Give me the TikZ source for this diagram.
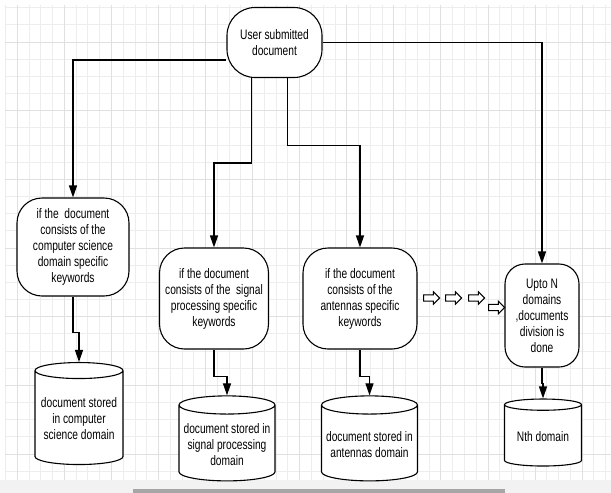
\documentclass[tikz,border=0pt]{standalone}
\usepackage{fontspec}
\setmainfont{Liberation Sans}[FakeStretch=0.74]
\usetikzlibrary{arrows.meta,shapes.geometric,shapes.arrows}

\tikzset{
  decision/.style={draw, line width=1.1pt, fill=white, rounded corners=25pt, align=center, inner sep=2pt},
  store/.style={cylinder, shape border rotate=90, aspect=0.2, draw, line width=1.1pt, fill=white, align=center, inner sep=2pt},
  flow/.style={line width=1.3pt, -{Triangle[length=12pt,width=8pt]}},
  hollow/.style={single arrow, draw, line width=1.1pt, fill=white, inner sep=2.6pt, minimum height=16pt, minimum width=12pt, single arrow head extend=3pt},
}

\begin{document}
\begin{tikzpicture}[x=1pt, y=-1pt, every node/.style={font=\fontsize{13.8}{16}\selectfont}]
    \useasboundingbox (0,0) rectangle (611,493);

    % Draw the grid
    \foreach \i in {0,...,51}
        \draw[black!7, line width=0.8pt] ({5.5+11.766*\i},5) -- ({5.5+11.766*\i},480);
    \foreach \j in {0,...,27}
        \draw[black!7, line width=0.8pt] (5,{7.6+17.17*\j}) -- (611,{7.6+17.17*\j});
    \foreach \i in {1,5,...,49}
        \draw[black!12, line width=0.8pt] ({5.5+11.766*\i},5) -- ({5.5+11.766*\i},480);
    \foreach \j in {2,6,...,26}
        \draw[black!12, line width=0.8pt] (5,{7.6+17.17*\j}) -- (611,{7.6+17.17*\j});

    % Draw the bar at the bottom
    \fill[black!5] (0,480) rectangle (611,493);
    \fill[black!35] (133,489) rectangle (505,493);

    % Draw the boxes
    \node[decision, rounded corners=28pt, minimum width=95pt, minimum height=70pt] (user) at (274.5,42.5) {User submitted\\document};

    \node[decision, minimum width=112pt, minimum height=98pt] (csdec) at (73,247) {if the\ \ document\\consists of the\\computer science\\domain specific\\keywords};
    \node[decision, minimum width=109pt, minimum height=101pt] (spdec) at (214,298.5) {if the document\\consists of the\ \ signal\\processing specific\\keywords};
    \node[decision, minimum width=114pt, minimum height=101pt] (antdec) at (360,298.5) {if the document\\consists of the\\antennas specific\\keywords};
    \node[decision, rounded corners=20pt, minimum width=74pt, minimum height=103pt] (ndec) at (542,315.5) {Upto N\\domains\\,documents\\division is\\done};

    % Draw the storage
    \node[store, minimum width=88pt, minimum height=102pt] (csdb) at (79,419) {document stored\\in computer\\science domain};
    \node[store, minimum width=96pt, minimum height=85pt] (spdb) at (227,444.5) {document stored in\\signal processing\\domain};
    \node[store, minimum width=96pt, minimum height=85pt] (antdb) at (369.5,444.5) {document stored in\\antennas domain};
    \node[store, minimum width=77pt, minimum height=67pt] (ndb) at (543,436.5) {Nth domain};

    % Draw the hollow arrows
    \node[hollow] (hol1) at (430,298) {};
    \node[hollow] (hol2) at (452,298) {};
    \node[hollow] (hol3) at (475,298) {};
    \node[hollow] (hol4) at (495,307.5) {};

    % Draw the wires
    \draw[flow] (user.200) -| (csdec.north);
    \draw[flow] ([xshift=-23pt]user.south) -- ++(0,85) -| (spdec.north);
    \draw[flow] ([xshift=13pt]user.south) -- ++(0,67.5) -| (antdec.north);
    \draw[flow] (user.east) -| (ndec.north);

    \draw[flow] (csdec.south) -- ++(0,36) -| (csdb.north);
    \draw[flow] (spdec.south) -- ++(0,27) -| (spdb.north);
    \draw[flow] (antdec.south) -- ++(0,27) -| (antdb.north);
    \draw[flow] (ndec.south) -- ++(0,16) -| (ndb.north);
\end{tikzpicture}
\end{document}
